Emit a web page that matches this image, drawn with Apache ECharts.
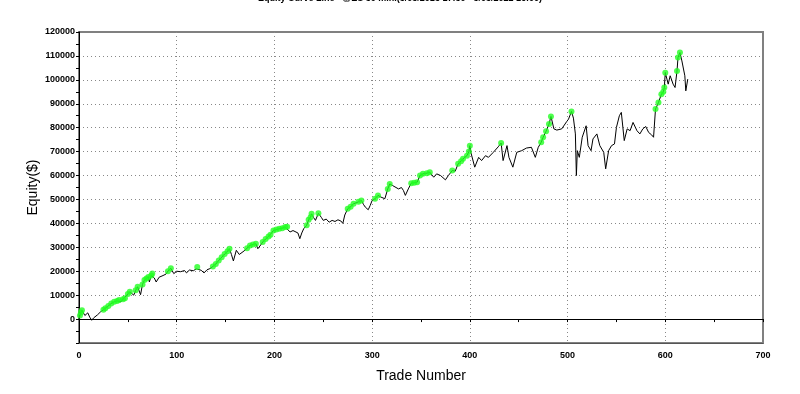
<!DOCTYPE html>
<html>
<head>
<meta charset="utf-8">
<script src="https://cdn.jsdelivr.net/npm/echarts@6/dist/echarts.min.js"></script>
<style>html,body{margin:0;padding:0;background:#fff}#c{width:800px;height:394px}</style>
</head>
<body>
<div id="c"></div>
<script>
var titleText = 'Equity Curve Line - @ES 30 min.(3/05/2013 17:30 - 3/05/2022 16:00)';
var xTicks = [0, 100, 200, 300, 400, 500, 600, 700];
var yTicks = [0, 10000, 20000, 30000, 40000, 50000, 60000, 70000, 80000, 90000, 100000, 110000, 120000];
var tradeNumbers = [0,1,2,3,6,9,11,13,15,16,19,22,25,27,30,33,36,39,41,43,45,47,50,52,54,56,58,60,63,65,67,69,71,72,74,75,77,79,82,86,89,91,94,97,100,104,108,110,113,117,120,121,125,128,131,134,137,140,143,146,149,152,154,156,158,161,164,166,169,172,175,178,181,183,186,188,191,194,196,199,202,205,208,211,213,216,219,221,224,226,228,230,233,235,237,238,240,242,245,248,250,253,256,259,262,265,268,270,272,275,278,281,283,286,289,291,293,296,298,300,303,306,309,313,316,318,321,323,327,330,332,334,337,340,343,346,349,352,356,359,363,366,370,375,378,382,385,388,391,393,397,399,400,401,405,409,412,416,419,424,429,432,434,438,440,444,448,453,458,463,467,470,473,475,478,481,483,486,489,494,499,501,504,506,508,509,510,512,515,519,521,524,526,530,533,537,539,542,545,548,550,553,555,558,561,564,567,571,574,577,580,583,586,588,590,593,596,598,599,600,603,605,608,610,612,613,615,617,618,620,621,623];
var equity = [0,1500,2800,3700,1500,2600,800,-500,500,1250,1800,3000,3900,4500,5500,6500,7200,7600,8000,7200,8300,8700,10500,11400,10800,10000,12000,13500,10200,14500,16300,17000,17600,15500,18200,19000,17200,15500,17500,18200,18800,20000,21200,19000,20000,19800,20300,19300,20500,20200,21000,21800,20400,19300,20600,21100,22000,23000,24500,25800,27200,28300,29400,27000,24300,28750,27000,27400,28500,29600,30800,31200,31500,29400,31000,32200,33500,34500,35200,37000,37400,37800,38000,38500,38600,36400,37000,37800,36000,33600,36000,37800,39200,41500,42600,44000,42500,41250,44200,42500,41250,41800,40500,41250,40800,41500,41000,40000,43500,46100,47000,48200,47500,49000,49600,48000,46800,45700,47500,49600,50300,51700,51000,50300,54400,56500,55800,55100,54400,55000,53750,51700,54400,56800,57000,57200,60000,60700,61000,61400,59300,60700,60000,58200,60000,62100,61800,64900,66000,67000,68300,70000,72500,69700,63500,67600,66250,68300,67600,69700,72000,73600,66250,72500,67600,63500,69700,70400,71500,71800,67600,71800,73900,76000,78500,81500,84700,79500,79000,79500,82500,83600,86800,84000,77400,60000,70400,67600,76000,80800,72500,70400,75300,77400,72500,69700,62800,70400,72500,73200,80100,85000,86400,74600,79500,78750,82200,78750,77400,79500,80500,78000,77000,76000,87800,90500,94000,95000,96800,103000,98200,101700,98200,96800,103700,109300,111400,107900,107200,101700,95400,100300];

var lineData = tradeNumbers.map(function (t, i) { return [t, equity[i]]; });
var highData = [];
var runMax = 0;
for (var i = 0; i < equity.length; i++) {
  if (equity[i] > runMax) { highData.push([tradeNumbers[i], equity[i]]); runMax = equity[i]; }
}

var chart = echarts.init(document.getElementById('c'), null, { renderer: 'canvas' });
chart.setOption({
  animation: false,
  backgroundColor: '#fff',
  title: {
    text: titleText, left: 'center', top: -11,
    textStyle: { fontSize: 9, fontWeight: 'bold', color: '#000', fontFamily: 'Liberation Sans, Arial, sans-serif' }
  },
  grid: { left: 79, right: 37, top: 32, bottom: 51, show: true, borderColor: '#808080', borderWidth: 2, backgroundColor: 'transparent' },
  xAxis: [{
    type: 'value', min: xTicks[0], max: xTicks[xTicks.length - 1], interval: 100, position: 'bottom',
    name: 'Trade Number', nameLocation: 'middle', nameGap: 26,
    nameTextStyle: { fontSize: 14, color: '#000', fontFamily: 'Liberation Sans, Arial, sans-serif' },
    axisLine: { onZero: false, lineStyle: { color: '#555', width: 1 } },
    axisTick: { show: false },
    axisLabel: { fontSize: 9, color: '#000', margin: 8, fontWeight: 'bold', fontFamily: 'Liberation Sans Narrow, Liberation Sans, Arial, sans-serif' },
    splitLine: { show: true, showMinLine: false, showMaxLine: false, lineStyle: { color: '#888', type: [1, 3], width: 1 } }
  }, {
    type: 'value', min: xTicks[0], max: xTicks[xTicks.length - 1], interval: 50, position: 'bottom',
    axisLine: { onZero: true, lineStyle: { color: '#000', width: 1 } },
    axisTick: { show: true, length: 3, lineStyle: { color: '#000' } },
    axisLabel: { show: false },
    splitLine: { show: false }
  }],
  yAxis: {
    type: 'value', min: -10000, max: yTicks[yTicks.length - 1], interval: 10000,
    name: 'Equity($)', nameLocation: 'middle', nameGap: 39, nameRotate: 90, nameMoveOverlap: false,
    nameTextStyle: { fontSize: 14, color: '#000', fontFamily: 'Liberation Sans, Arial, sans-serif' },
    axisLine: { show: true, lineStyle: { color: '#000', width: 1 } },
    axisTick: { show: true, length: 3, lineStyle: { color: '#000' } },
    minorTick: { show: true, splitNumber: 2, length: 3, lineStyle: { color: '#000' } },
    axisLabel: {
      fontSize: 9, color: '#000', margin: 4, fontWeight: 'bold', fontFamily: 'Liberation Sans, Arial, sans-serif',
      formatter: function (v) { return yTicks.indexOf(v) >= 0 ? String(v) : ''; }
    },
    splitLine: { show: true, showMinLine: false, showMaxLine: false, lineStyle: { color: '#888', type: [1, 3], width: 1 } }
  },
  series: [{
    type: 'line', data: lineData, xAxisIndex: 0, showSymbol: false, symbol: 'none',
    lineStyle: { color: '#000', width: 1 }, z: 3
  }, {
    type: 'scatter', data: highData, xAxisIndex: 0, symbol: 'circle', symbolSize: 6,
    itemStyle: { color: '#22ff22' }, z: 4
  }]
});
</script>
</body>
</html>
